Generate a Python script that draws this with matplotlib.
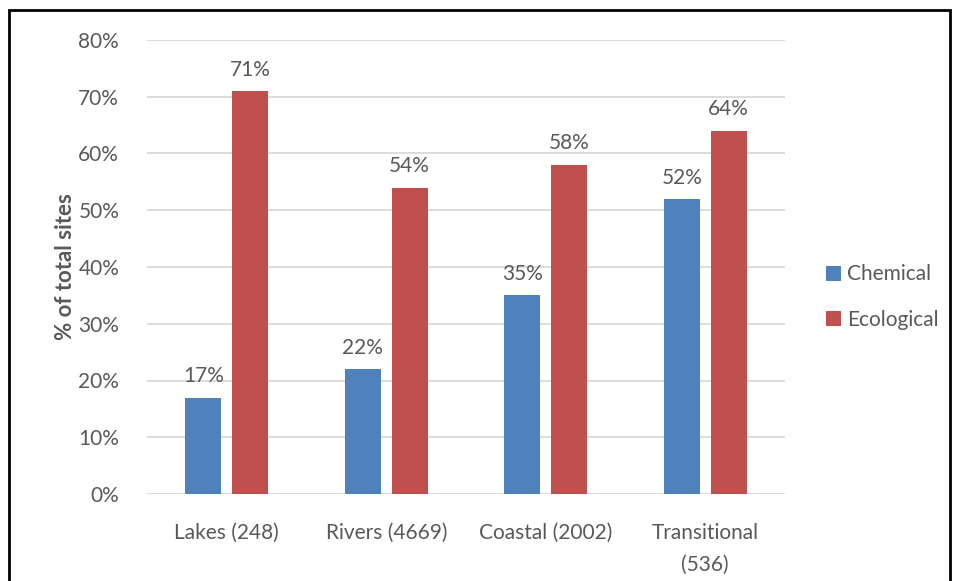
import matplotlib
matplotlib.use("Agg")
import matplotlib.pyplot as plt
import numpy as np
from matplotlib.patches import Rectangle

categories = ["Lakes (248)", "Rivers (4669)", "Coastal (2002)", "Transitional\n(536)"]
chemical = [17, 22, 35, 52]
ecological = [71, 54, 58, 64]
series_names = ["Chemical", "Ecological"]
yticks = [0, 10, 20, 30, 40, 50, 60, 70, 80]

blue = "#4F81BD"
red = "#C0504D"
txt = "#595959"

plt.rcParams['font.family'] = ['Lato', 'DejaVu Sans']

W, H = 956, 581
fig = plt.figure(figsize=(W/100, H/100), dpi=100)
ax = fig.add_axes([147/W, 1-494/H, (785-147)/W, (494-40)/H])

x = np.arange(len(categories))
bw = 0.226
off = 0.147
b1 = ax.bar(x - off, chemical, bw, color=blue, label=series_names[0], zorder=3)
b2 = ax.bar(x + off, ecological, bw, color=red, label=series_names[1], zorder=3)

for bars, vals in ((b1, chemical), (b2, ecological)):
    for r, v in zip(bars, vals):
        ax.text(r.get_x() + r.get_width()/2, v + 2.0, f"{v}%", ha='center', va='bottom',
                fontsize=15, color=txt)

ax.set_xlim(-0.5, 3.5)
ax.set_ylim(0, 80)
ax.set_yticks(yticks)
ax.set_yticklabels([f"{t}%" for t in yticks])
ax.set_xticks(x)
ax.set_xticklabels(categories, linespacing=1.75, va='top')
ax.grid(axis='y', color='#D9D9D9', linewidth=1.3, zorder=0)
for s in ax.spines.values():
    s.set_visible(False)
ax.tick_params(axis='both', length=0, labelsize=15, labelcolor=txt)
ax.tick_params(axis='y', pad=20)
ax.tick_params(axis='x', pad=21)
ax.set_ylabel("% of total sites", fontsize=16, fontweight='bold', color=txt, labelpad=2)

leg = fig.legend(handles=[b1, b2], labels=series_names, loc='center left',
                 bbox_to_anchor=(826/W, 1-297/H), frameon=False, fontsize=15,
                 handlelength=0.7, handleheight=0.7, handletextpad=0.3, labelspacing=1.2,
                 labelcolor=txt, borderpad=0, borderaxespad=0)

fig.patches.append(Rectangle((9/W, -0.05), (950-9)/W, 1.05 - 10/H, transform=fig.transFigure,
                             fill=False, edgecolor='black', linewidth=2))

fig.savefig("out.png", dpi=100)
